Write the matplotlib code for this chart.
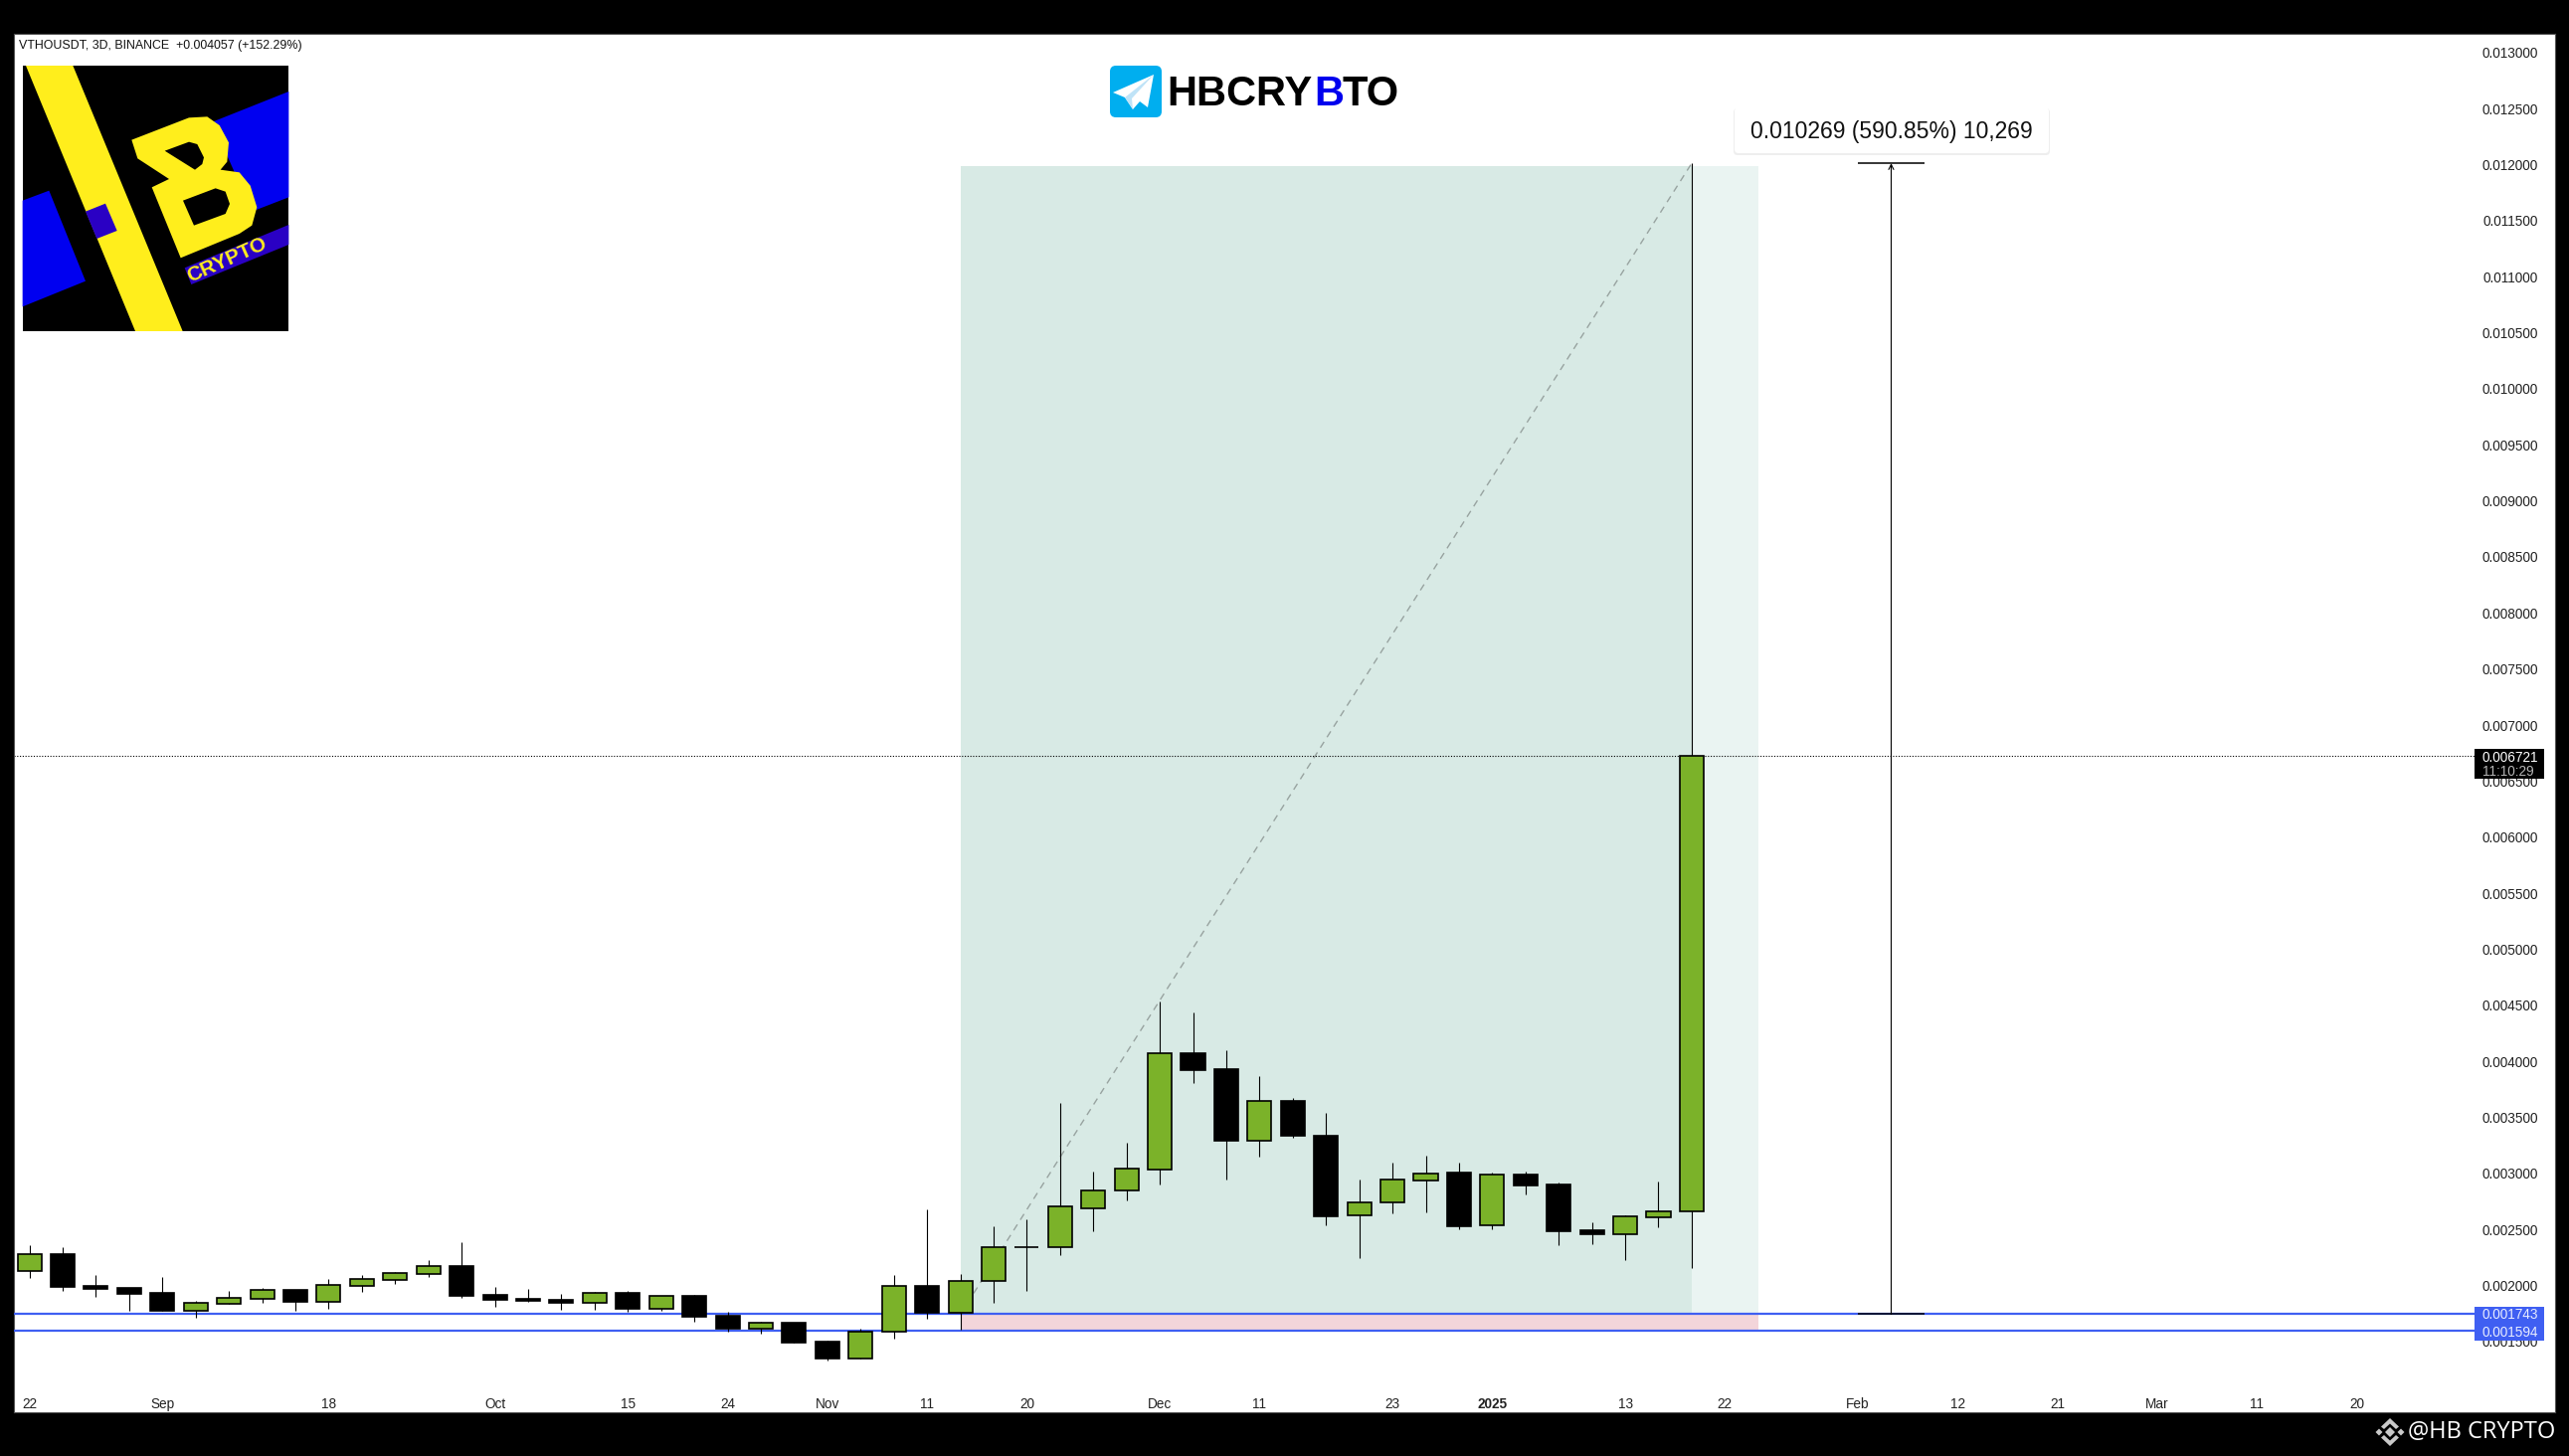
import matplotlib
matplotlib.use('Agg')
import matplotlib.pyplot as plt
from matplotlib.patches import Polygon, Rectangle, FancyBboxPatch

# candle values, one entry per 3D bar
opens = [.002132, .002280, .001996, .001978, .001934, .001777, .001839, .001883, .001960, .001857,
         .001999, .002052, .002105, .002173, .001916, .001880, .001871, .001848, .001934, .001795,
         .001907, .001729, .001617, .001667, .001499, .001351, .001590, .001996, .001759, .002037,
         .002338, .002338, .002690, .002850, .003036, .004072, .003930, .003288, .003646, .003335,
         .002628, .002738, .002939, .003004, .002534, .002989, .002900, .002492, .002460, .002610,
         .002658]
closes = [.002277, .001987, .001969, .001925, .001774, .001842, .001886, .001957, .001854, .002002,
          .002055, .002108, .002170, .001907, .001871, .001863, .001845, .001931, .001792, .001904,
          .001721, .001614, .001664, .001490, .001348, .001585, .001993, .001756, .002037, .002338,
          .002338, .002702, .002844, .003039, .004069, .003924, .003294, .003643, .003338, .002619,
          .002738, .002942, .002995, .002531, .002986, .002894, .002486, .002460, .002613, .002658,
          .006721]
highs = [.002360, .002342, .002093, .001978, .002079, .001863, .001954, .001978, .001960, .002061,
         .002093, .002120, .002229, .002386, .001987, .001969, .001925, .001942, .001951, .001904,
         .001919, .001765, .001676, .001667, .001511, .001614, .002096, .002679, .002102, .002525,
         .002590, .003628, .003016, .003273, .004533, .004436, .004095, .003868, .003669, .003539,
         .002945, .003096, .003158, .003096, .003004, .003013, .002915, .002563, .002628, .002930,
         .012012]
lows = [.002064, .001954, .001898, .001771, .001774, .001712, .001839, .001845, .001771, .001792,
        .001940, .002011, .002076, .001892, .001806, .001851, .001780, .001780, .001765, .001774,
        .001676, .001585, .001573, .001490, .001333, .001351, .001525, .001700, .001602, .001844,
        .001951, .002270, .002483, .002758, .002900, .003805, .002945, .003146, .003320, .002539,
        .002244, .002643, .002652, .002501, .002501, .002812, .002359, .002368, .002226, .002519,
        .002155]

price_ticks = [.0015 + .0005 * i for i in range(24)]
date_pos = [0, 4, 9, 14, 18, 21, 24, 27, 30, 34, 37, 41, 44, 48, 51, 55, 58, 61, 64, 67, 70]
date_labels = ['22', 'Sep', '18', 'Oct', '15', '24', 'Nov', '11', '20', 'Dec', '11', '23', '2025',
               '13', '22', 'Feb', '12', '21', 'Mar', '11', '20']

support_hi = 0.001743
support_lo = 0.001594
last_price = 0.006721
target = 0.012012

W, H = 2583, 1464
GREEN = '#7bb229'
BLUE = '#3f5ff2'

plt.rcParams['font.family'] = ['Liberation Sans', 'DejaVu Sans']
fig = plt.figure(figsize=(W / 100, H / 100), dpi=100, facecolor='black')

# white chart area, axes limits line up with the price and bar scale
ax = fig.add_axes([14 / W, 1 - 1420 / H, (2569 - 14) / W, (1420 - 34) / H], zorder=1)
ax.set_xlim(-0.467, 75.97)
ax.set_ylim(0.000869, 0.013167)
for s in ax.spines.values():
    s.set_color('#555555')
    s.set_linewidth(0.8)

ax.yaxis.tick_right()
ax.set_yticks(price_ticks)
ax.set_yticklabels(['%.6f' % p for p in price_ticks], fontsize=9.8, color='#222222', ha='right')
ax.tick_params(axis='y', length=0, pad=-12.2)
ax.set_xticks(date_pos)
ax.set_xticklabels(date_labels, fontsize=9.8, color='#222222')
ax.tick_params(axis='x', length=0, pad=-11)
for lab in ax.get_xticklabels():
    if lab.get_text() == '2025':
        lab.set_fontweight('bold')

# long position box
ax.add_patch(Rectangle((28, support_hi), 22, 0.011990 - support_hi, color='#d8eae5', lw=0, zorder=1))
ax.add_patch(Rectangle((50, support_hi), 2, 0.011990 - support_hi, color='#eaf4f2', lw=0, zorder=1))
ax.add_patch(Rectangle((28, support_lo), 24, support_hi - support_lo, color='#f3d5da', lw=0, zorder=1))
ax.plot([28, 50], [support_hi, target], color='#98a3a0', lw=1, ls=(0, (5, 4)), zorder=2)

# horizontal levels stop before the price tags
ax.axhline(support_hi, xmax=0.9686, color=BLUE, lw=1.6, zorder=4)
ax.axhline(support_lo, xmax=0.9686, color=BLUE, lw=1.6, zorder=4)
ax.axhline(last_price, xmax=0.9686, color='black', lw=0.8, ls=(0, (1, 1.5)), zorder=2)

# candles
idx = list(range(len(opens)))
colors = [GREEN if c >= o else 'black' for o, c in zip(opens, closes)]
bottoms = [min(o, c) for o, c in zip(opens, closes)]
heights = [abs(c - o) for o, c in zip(opens, closes)]
ax.vlines(idx, lows, highs, color='black', lw=0.8, zorder=5)
ax.bar(idx, heights, bottom=bottoms, width=0.72, color=colors, edgecolor='black', linewidth=1.2, zorder=6)

# measure tool
ax.annotate('', xy=(56, target), xytext=(56, support_hi),
            arrowprops=dict(arrowstyle='->', color='black', lw=0.8, shrinkA=0, shrinkB=0, mutation_scale=9), zorder=5)
ax.hlines([target, support_hi], 55, 57, color='black', lw=1.1, zorder=5)

# everything below is placed in image pixels on a see-through overlay
deco = fig.add_axes([0, 0, 1, 1], zorder=2)
deco.set_xlim(0, W)
deco.set_ylim(H, 0)
deco.axis('off')

deco.text(19, 46, 'VTHOUSDT, 3D, BINANCE  +0.004057 (+152.29%)', fontsize=8.95, color='#111111', va='center')

# price tags
deco.add_patch(Rectangle((2488, 1314), 70, 34, color=BLUE, lw=0))
deco.text(2552, 1322.5, '0.001743', color='#e8ecff', fontsize=9.8, ha='right', va='center')
deco.text(2552, 1339.5, '0.001594', color='#e8ecff', fontsize=9.8, ha='right', va='center')
deco.add_patch(Rectangle((2488, 753), 70, 30, color='black', lw=0))
deco.text(2552, 762, '0.006721', color='white', fontsize=9.8, ha='right', va='center')
deco.text(2548, 776, '11:10:29', color='#b5b5b5', fontsize=9.8, ha='right', va='center')

# measure label with a faint shadow under it
deco.add_patch(FancyBboxPatch((1743, 109), 318, 47, boxstyle='round,pad=0,rounding_size=4', fc='#eeeeee', ec='none'))
deco.add_patch(FancyBboxPatch((1744, 108), 316, 46, boxstyle='round,pad=0,rounding_size=4', fc='white', ec='none'))
deco.text(1902, 133, '0.010269 (590.85%) 10,269', fontsize=16.5, color='#111111', ha='center', va='center')

# telegram header
deco.add_patch(FancyBboxPatch((1118, 68), 48, 48, boxstyle='round,pad=2,rounding_size=6', fc='#00aeef', ec='none'))
deco.add_patch(Polygon([(1160, 75), (1119, 93), (1131, 98), (1139, 110), (1146, 102), (1154, 108)], fc='white', ec='none'))
deco.add_patch(Polygon([(1160, 75), (1131, 98), (1139, 110), (1138, 99)], fc='#bfe3f7', ec='none'))
deco.text(1173, 90.5, 'HBCRY', fontsize=30, fontweight='bold', color='black', va='center_baseline')
deco.text(1321, 90.5, 'B', fontsize=30, fontweight='bold', color='#0000ee', va='center_baseline')
deco.text(1350, 90.5, 'TO', fontsize=30, fontweight='bold', color='black', va='center_baseline')

# logo, traced in the 3x crop so divide by 3
def logo_poly(pts, color):
    deco.add_patch(Polygon([(x / 3, y / 3) for x, y in pts], fc=color, ec='none'))

logo_poly([(68, 198), (871, 198), (871, 999), (68, 999)], 'black')
logo_poly([(640, 368), (871, 276), (871, 595), (760, 638)], '#0000f0')
logo_poly([(68, 605), (148, 575), (258, 848), (68, 925)], '#0000f0')
logo_poly([(78, 198), (220, 198), (551, 999), (408, 999)], '#ffee1c')
logo_poly([(258, 638), (318, 614), (353, 696), (292, 720)], '#2a00c4')
logo_poly([(397, 422), (570, 355), (625, 352), (662, 378), (690, 430), (685, 488), (665, 512), (722, 520),
           (755, 560), (775, 625), (760, 680), (722, 705), (545, 778), (458, 565), (510, 540), (415, 478)], '#ffee1c')
logo_poly([(497, 455), (570, 428), (595, 435), (615, 475), (610, 495), (588, 512)], 'black')
logo_poly([(552, 605), (650, 568), (680, 578), (693, 615), (680, 645), (585, 680)], 'black')
logo_poly([(557, 808), (871, 678), (871, 738), (577, 858)], '#2a00c4')
deco.text(685 / 3, 786 / 3, 'CRYPTO', fontsize=15, fontweight='bold', color='#ffee1c', rotation=24,
          ha='center', va='center', rotation_mode='anchor')

# watermark bottom right, binance mark made of diamonds and two chevrons
deco.text(2421, 1440, '@HB CRYPTO', fontsize=17, family='Open Sans', color='white', va='center')
dcx, dcy = 2403, 1440
for dx, r in [(0, 5), (-11, 3.5), (11, 3.5)]:
    deco.add_patch(Polygon([(dcx + dx - r, dcy), (dcx + dx, dcy - r), (dcx + dx + r, dcy), (dcx + dx, dcy + r)],
                           fc='#c9c9c9', ec='none'))
for sign in (-1, 1):
    deco.add_patch(Polygon([(dcx - 9, dcy + sign * 5.5), (dcx, dcy + sign * 14), (dcx + 9, dcy + sign * 5.5),
                            (dcx + 6, dcy + sign * 3), (dcx, dcy + sign * 8.5), (dcx - 6, dcy + sign * 3)],
                           fc='#c9c9c9', ec='none'))

fig.savefig('out.png', dpi=100, facecolor='black')
